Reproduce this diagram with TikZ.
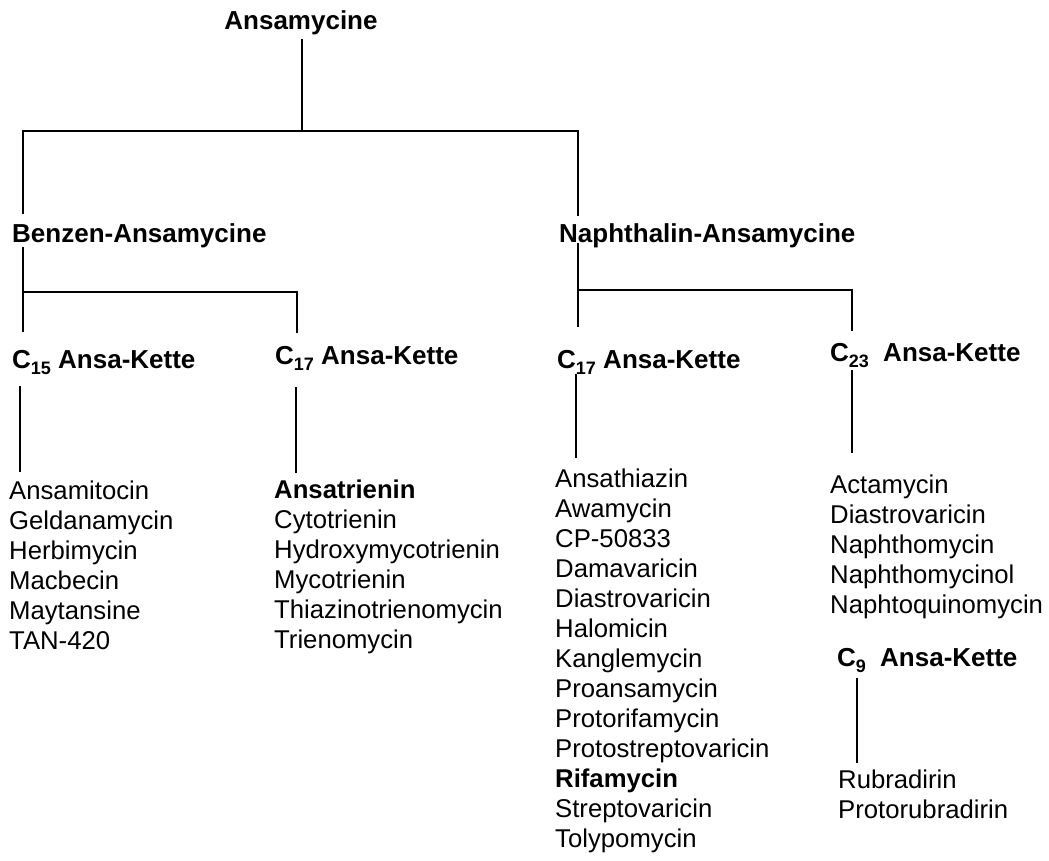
\documentclass[tikz,border=0pt]{standalone}
\usepackage{fontspec}
\setmainfont{Liberation Sans}
\newcommand\hdfont{\fontsize{26}{30}\selectfont\bfseries}
\newcommand\itfont{\fontsize{25.7}{30}\selectfont}
\newcommand\subnum[1]{\raisebox{-6pt}{\fontsize{18}{18}\selectfont\bfseries #1}}
\begin{document}
\begin{tikzpicture}[x=1pt,y=-1pt,
  head/.style={font=\hdfont,inner sep=0pt,anchor=base west},
  entry/.style={font=\itfont,inner sep=0pt,anchor=base west},
  link/.style={line width=1.7pt,line cap=butt,line join=miter}]
\path[fill=white,use as bounding box] (0,0) rectangle (1049,860);

% headings
\node[head,anchor=base] (root) at (301,29) {Ansamycine};
\node[head] (benz) at (12,242) {Benzen-Ansamycine};
\node[head] (naph) at (559,242) {Naphthalin-Ansamycine};
\node[head] (c15) at (12,368) {C\subnum{15} Ansa-Kette};
\node[head] (c17a) at (275,364) {C\subnum{17} Ansa-Kette};
\node[head] (c17b) at (557,368) {C\subnum{17} Ansa-Kette};
\node[head] (c23) at (830,361) {C\subnum{23}\hspace{7pt} Ansa-Kette};
\node[head] (c9) at (837,666) {C\subnum{9}\hspace{7pt} Ansa-Kette};

% lists
\foreach \t [count=\i from 0] in {Ansamitocin,Geldanamycin,Herbimycin,Macbecin,Maytansine,TAN-420}
  \node[entry] (la\i) at (9,{499+30*\i}) {\t};
\foreach \t [count=\i from 0] in {{\textbf{Ansatrienin}},Cytotrienin,Hydroxymycotrienin,Mycotrienin,Thiazinotrienomycin,Trienomycin}
  \node[entry] (lb\i) at (274,{498+30*\i}) {\t};
\foreach \t [count=\i from 0] in {Ansathiazin,Awamycin,CP-50833,Damavaricin,Diastrovaricin,Halomicin,Kanglemycin,Proansamycin,Protorifamycin,Protostreptovaricin,{\textbf{Rifamycin}},Streptovaricin,Tolypomycin}
  \node[entry] (lc\i) at (555,{487+30*\i}) {\t};
\foreach \t [count=\i from 0] in {Actamycin,Diastrovaricin,Naphthomycin,Naphthomycinol,Naphtoquinomycin}
  \node[entry] (ld\i) at (830,{493+30*\i}) {\t};
\foreach \t [count=\i from 0] in {Rubradirin,Protorubradirin}
  \node[entry] (le\i) at (838,{788+30*\i}) {\t};

% connector end points
\coordinate (r0) at (302,39);   \coordinate (r1) at (302,131);
\coordinate (b0) at (23,131);   \coordinate (b1) at (23,214);
\coordinate (n0) at (578,131);  \coordinate (n1) at (578,216);
\coordinate (b2) at (23,247);   \coordinate (b3) at (23,332);
\coordinate (bj) at (23,292);   \coordinate (bk) at (297,292);
\coordinate (bm) at (297,333);
\coordinate (n2) at (578,243);  \coordinate (n3) at (578,327);
\coordinate (nj) at (578,290);  \coordinate (nk) at (852,290);
\coordinate (nm) at (852,331);
\coordinate (p0) at (20,386);   \coordinate (p1) at (20,472);
\coordinate (q0) at (296,387);  \coordinate (q1) at (296,473);
\coordinate (s0) at (576,374);  \coordinate (s1) at (576,458);
\coordinate (t0) at (852,370);  \coordinate (t1) at (852,453);
\coordinate (u0) at (857,678);  \coordinate (u1) at (857,763);

% connectors
\draw[link] (r0) -- (r1);
\draw[link] (b1) -- (b0) -- (n0) -- (n1);
\draw[link] (b2) -- (b3);
\draw[link] (bj) -- (bk) -- (bm);
\draw[link] (n2) -- (n3);
\draw[link] (nj) -- (nk) -- (nm);
\draw[link] (p0) -- (p1);
\draw[link] (q0) -- (q1);
\draw[link] (s0) -- (s1);
\draw[link] (t0) -- (t1);
\draw[link] (u0) -- (u1);
\end{tikzpicture}
\end{document}
